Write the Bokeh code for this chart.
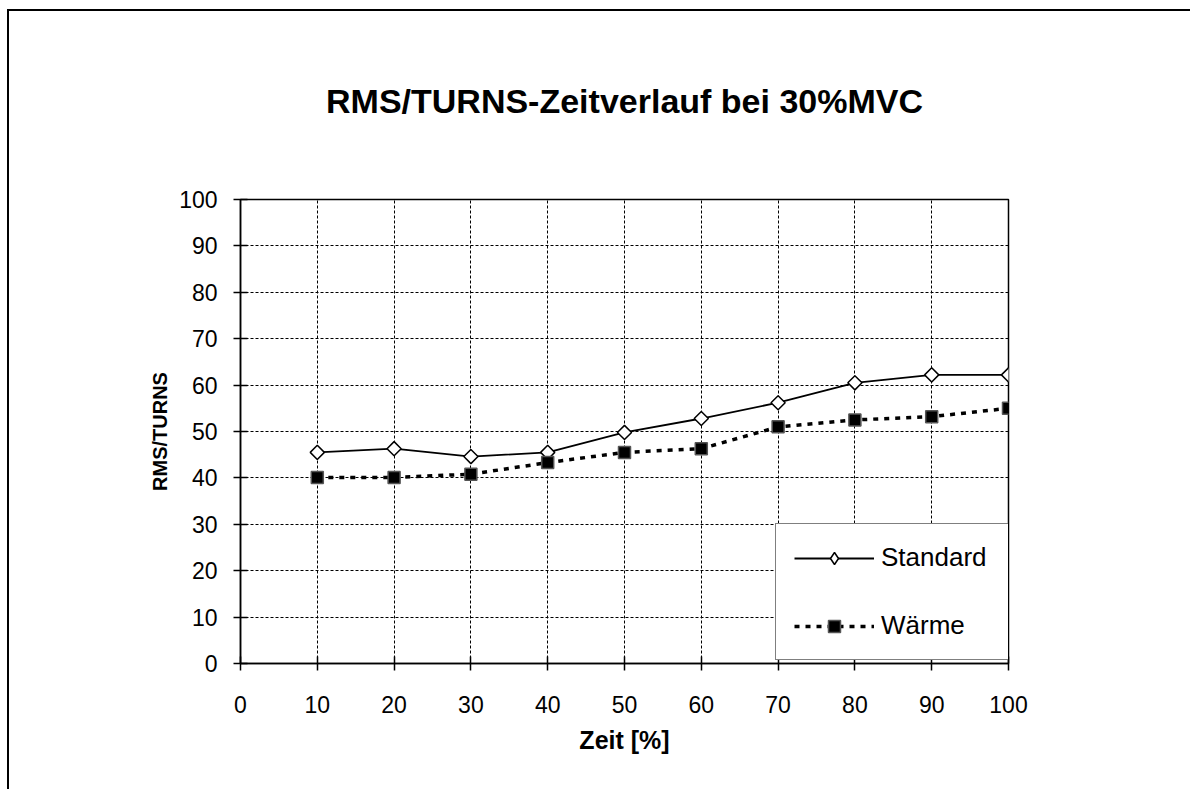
from bokeh.plotting import figure
from bokeh.models import Legend, LegendItem, FixedTicker, Range1d, InlineStyleSheet
from bokeh.embed import file_html
from bokeh.resources import INLINE
import math

# Zeitverlauf RMS/TURNS bei 30 % MVC
zeit = [10, 20, 30, 40, 50, 60, 70, 80, 90, 100]
standard = [45.5, 46.3, 44.6, 45.5, 49.8, 52.8, 56.2, 60.5, 62.2, 62.2]
waerme = [40.1, 40.1, 40.8, 43.3, 45.5, 46.3, 51.0, 52.5, 53.2, 55.0]
x_ticks = [0, 10, 20, 30, 40, 50, 60, 70, 80, 90, 100]
y_ticks = [0, 10, 20, 30, 40, 50, 60, 70, 80, 90, 100]

FONT = "Liberation Sans"
W, H = 1190, 789

p = figure(width=W, height=H, output_backend="svg", toolbar_location=None,
           x_range=Range1d(0, 100), y_range=Range1d(0, 100),
           min_border_left=240, min_border_right=182,
           min_border_top=197, min_border_bottom=126,
           title="RMS/TURNS-Zeitverlauf bei 30%MVC")

# outer chart frame: 2px rules along the left and top edges, drawn as an
# overlay box on top of the plot canvas
frame_css = InlineStyleSheet(css="""
:host { position: relative; }
:host::after {
  content: "";
  position: absolute;
  left: 7px; top: 9px; right: 0; bottom: 0;
  border-left: 2px solid black;
  border-top: 2px solid black;
  pointer-events: none;
  z-index: 100;
}
""")
p.stylesheets = [frame_css]

p.title.align = "center"
p.title.text_font = FONT
p.title.text_font_size = "34px"
p.title.text_font_style = "bold"
p.title.text_color = "black"
p.title.standoff = 159

p.outline_line_color = "black"
p.outline_line_width = 1.5
p.background_fill_color = "white"
p.border_fill_color = "white"

for ax, ticks in ((p.xaxis[0], x_ticks), (p.yaxis[0], y_ticks)):
    ax.ticker = FixedTicker(ticks=ticks)
    ax.axis_line_color = "black"
    ax.axis_line_width = 1.5
    ax.major_tick_line_color = "black"
    ax.major_tick_line_width = 1.5
    ax.major_tick_in = 7
    ax.major_tick_out = 7
    ax.minor_tick_line_color = None
    ax.major_label_text_font = FONT
    ax.major_label_text_font_size = "23px"
    ax.major_label_text_color = "black"
    ax.axis_label_text_font = FONT
    ax.axis_label_text_font_style = "bold"
    ax.axis_label_text_color = "black"

p.xaxis.axis_label = "Zeit [%]"
p.yaxis.axis_label = "RMS/TURNS"
p.xaxis.axis_label_text_font_size = "25px"
p.yaxis.axis_label_text_font_size = "20px"
p.xaxis.major_label_standoff = 25
p.yaxis.major_label_standoff = 16
p.xaxis.axis_label_standoff = 10
p.yaxis.axis_label_standoff = 5

for g in (p.xgrid[0], p.ygrid[0]):
    g.ticker = FixedTicker(ticks=x_ticks)
    g.grid_line_color = "black"
    g.grid_line_width = 1
    g.grid_line_dash = "3 2"

# Standard: solid line with open diamonds
l1 = p.line(zeit, standard, line_color="black", line_width=1.8)
m1 = p.scatter(zeit, standard, marker="square", angle=math.pi / 4, size=10,
               fill_color="white", line_color="black", line_width=1.5)
# legend swatch for the diamond (no data points of its own)
m1_key = p.scatter([float("nan")], [float("nan")], marker="diamond", size=18,
                   fill_color="white", line_color="black", line_width=1.5)

# Wärme: dotted line with filled squares
l2 = p.line(zeit, waerme, line_color="black", line_width=3.5, line_dash="5 6")
m2 = p.scatter(zeit, waerme, marker="square", size=12,
               fill_color="black", line_color="#555555", line_width=1.5)

legend = Legend(items=[LegendItem(label="Standard", renderers=[l1, m1_key]),
                       LegendItem(label="Wärme", renderers=[l2, m2])],
                location=(535, 3))
legend.label_text_font = FONT
legend.label_text_font_size = "26px"
legend.label_text_color = "black"
legend.glyph_width = 80
legend.glyph_height = 30
legend.label_height = 30
legend.label_width = 110
legend.label_standoff = 7
legend.spacing = 37
legend.padding = 18
legend.margin = 0
legend.border_line_color = "black"
legend.border_line_width = 1.5
legend.background_fill_color = "white"
legend.background_fill_alpha = 1
p.add_layout(legend, "center")

open("out.html", "w").write(file_html(p, INLINE))
